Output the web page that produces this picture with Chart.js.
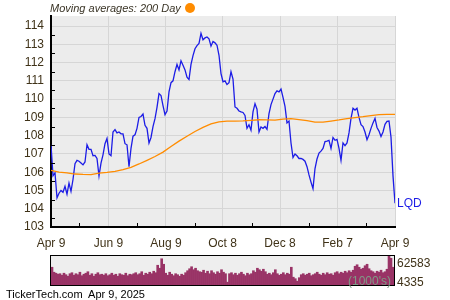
<!DOCTYPE html>
<html>
<head>
<meta charset="utf-8">
<script src="https://cdn.jsdelivr.net/npm/chart.js@4.4.1/dist/chart.umd.min.js"></script>
<style>
    html, body { margin: 0; padding: 0; background: #fff; }
    #wrap { position: relative; width: 450px; height: 300px; overflow: hidden; font-family: "Liberation Sans", Arial, sans-serif; }
    #main { position: absolute; left: 0; top: 0; }
    #vol { position: absolute; left: 0; top: 250px; }
    .txt { position: absolute; white-space: nowrap; line-height: 14px; }
    #title { left: 50px; top: 1px; font-size: 11px; font-style: italic; color: #3a3426; }
    #dot { position: absolute; left: 185px; top: 3px; width: 10px; height: 10px; border-radius: 50%; background: #ff8c00; }
    #volMax { left: 397px; top: 256px; font-size: 12px; color: #3f3218; }
    #volMin { left: 397px; top: 275px; font-size: 12px; color: #3f3218; }
    #volUnit { left: 348px; top: 274px; font-size: 12px; color: #7f9a86; }
    #footer { left: 6px; top: 287px; font-size: 11px; color: #000; }
</style>
</head>
<body>
<div id="wrap">
    <canvas id="main" width="450" height="250"></canvas>
    <canvas id="vol" width="450" height="40"></canvas>
    <div class="txt" id="title">Moving averages: 200 Day</div>
    <div id="dot"></div>
    <div class="txt" id="volMax">62583</div>
    <div class="txt" id="volMin">4335</div>
    <div class="txt" id="volUnit">(1000's)</div>
    <div class="txt" id="footer">TickerTech.com&nbsp; Apr 9, 2025</div>
</div>
<script>
// LQD closes, sampled evenly from Apr 9 2024 to Apr 9 2025
const prices = [
    107.5, 105.8, 105.96, 104.6, 104.85, 105.0, 104.9, 105.23, 104.8, 105.4,
    104.95, 105.6, 106.47, 106.65, 106.6, 106.5, 106.4, 106.56, 107.5, 107.25,
    107.25, 106.9, 106.92, 106.75, 105.8, 106.5, 106.95, 107.56, 107.85, 107.0,
    106.9, 108.2, 108.33, 108.15, 108.2, 108.1, 108.1, 107.56, 107.5, 106.3,
    107.3, 107.97, 108.05, 108.4, 109.0, 109.05, 109.18, 108.57, 108.4, 107.6,
    107.9, 108.5, 108.93, 109.55, 110.3, 110.2, 109.65, 109.15, 109.35, 110.4,
    110.9, 111.0, 111.5, 111.9, 111.6, 112.1, 111.85, 111.6, 111.2, 111.07,
    111.9, 112.38, 112.76, 112.93, 113.05, 113.6, 113.25, 113.35, 113.4, 113.3,
    112.9, 113.15, 113.08, 112.95, 112.4, 111.4, 110.95, 111.0, 110.8, 110.9,
    111.5, 111.1, 109.57, 109.5, 109.35, 109.3, 109.27, 109.11, 108.4, 108.6,
    108.3, 109.3, 109.75, 109.45, 108.2, 108.47, 108.4, 108.5, 108.35, 109.2,
    109.7, 110.0, 110.3, 110.45, 110.4, 110.55, 110.1, 109.6, 108.7, 108.8,
    107.6, 106.8, 107.0, 106.9, 106.75, 106.75, 106.7, 106.6, 106.3, 105.85,
    105.46, 105.1, 106.2, 106.72, 107.05, 107.15, 107.3, 107.68, 107.7, 107.74,
    107.3, 107.9, 107.75, 107.8, 107.3, 106.65, 107.6, 107.45, 107.6, 108.15,
    108.95, 109.5, 109.4, 109.5, 109.0, 108.6, 108.5, 108.2, 107.78, 108.05,
    108.4, 108.7, 108.95, 108.45, 108.25, 107.95, 108.2, 108.62, 108.78, 108.8,
    107.92, 105.8, 104.3
];

// 200 day moving average, one value every 4 price samples
const ma200 = [
    106.1, 106.0, 105.96, 105.9, 105.88, 105.87, 105.95, 105.99, 106.05, 106.14,
    106.27, 106.45, 106.65, 106.86, 107.1, 107.41, 107.7, 107.97, 108.23, 108.45,
    108.64, 108.76, 108.8, 108.8, 108.81, 108.84, 108.87, 108.86, 108.85, 108.9,
    108.93, 108.88, 108.82, 108.74, 108.74, 108.8, 108.86, 108.93, 108.99, 109.04,
    109.1, 109.15, 109.17, 109.17
];

// volume in 1000's
const volumes = [
    40000, 30000, 28000,
    26000, 27000, 24000, 28000, 25000, 22000, 27000,
    29000, 24000, 27000, 25000, 30000, 23000, 26000, 28000,
    31000, 24000, 27000, 22000, 26000, 29000, 25000,
    26000, 24000, 27000, 23000, 25000, 28000, 24000, 26000, 22000, 27000, 25000, 24000, 28000, 23000, 26000, 25000, 27000,
    29000, 25000, 27000, 31000, 24000, 28000, 26000, 30000, 27000, 32000, 29000,
    44000, 38000, 57000, 46000,
    28000, 24000, 30000, 26000, 23000, 27000, 25000, 22000, 26000, 24000, 29000,
    33000, 37000, 41000, 35000, 38000, 33000, 31000,
    30000, 34000, 28000, 32000, 27000, 33000, 29000, 26000, 31000, 28000, 35000, 30000, 27000,
    10000,
    27000, 29000, 25000, 28000, 24000, 27000, 30000, 26000, 23000, 28000, 25000, 27000,
    33000, 30000, 38000, 35000, 32000, 36000, 31000,
    26000, 28000, 25000, 29000, 35000, 27000, 24000, 26000, 29000, 25000, 28000, 26000,
    40000,
    20000, 17000, 12000, 19000,
    25000, 27000, 24000, 26000, 28000, 23000, 25000, 27000, 30000, 26000, 24000, 28000, 25000, 29000, 26000, 27000, 24000,
    29000, 31000, 27000, 30000, 28000, 32000, 29000, 33000, 30000, 34000,
    42000, 45000, 40000, 36000,
    38000, 43000, 46000, 37000, 33000,
    31000, 28000, 32000, 30000, 34000, 29000, 31000, 36000,
    62583, 58000, 40000
];
const volumeMin = 4335;
const volumeMax = 62583;

// axis ticks, x in calendar days from Apr 9 2024
const xTickDays = [0, 61, 122, 182, 243, 304, 365];
const xTickLabels = ['Apr 9', 'Jun 9', 'Aug 9', 'Oct 8', 'Dec 8', 'Feb 7', 'Apr 9'];
const xMinorDays = [30, 91, 153, 213, 274, 334];
const yTicks = [103, 104, 105, 106, 107, 108, 109, 110, 111, 112, 113, 114];
const yMinor = [103.5, 104.5, 105.5, 106.5, 107.5, 108.5, 109.5, 110.5, 111.5, 112.5, 113.5];

const totalDays = 365;
const labelColor = '#3f3218';

Chart.defaults.font.family = '"Liberation Sans", Arial, sans-serif';
Chart.defaults.font.size = 12;

const plotBg = {
    id: 'plotBg',
    beforeDraw(chart, args, opts) {
        const a = chart.chartArea, ctx = chart.ctx;
        ctx.save();
        ctx.fillStyle = opts.color;
        ctx.fillRect(a.left, a.top, a.right - a.left, a.bottom - a.top);
        ctx.restore();
    }
};

// small inner ticks between the labelled ones
const minorTicks = {
    id: 'minorTicks',
    afterDraw(chart) {
        const a = chart.chartArea, ctx = chart.ctx;
        const xs = chart.scales.x, ys = chart.scales.y;
        ctx.save();
        ctx.strokeStyle = '#000';
        ctx.lineWidth = 1;
        ctx.beginPath();
        yMinor.forEach(v => {
            const y = Math.round(ys.getPixelForValue(v)) + 0.5;
            ctx.moveTo(a.left, y);
            ctx.lineTo(a.left + 4, y);
        });
        xMinorDays.forEach(d => {
            const x = Math.round(xs.getPixelForValue(d)) + 0.5;
            ctx.moveTo(x, a.bottom);
            ctx.lineTo(x, a.bottom - 4);
        });
        ctx.stroke();
        ctx.restore();
    }
};

const endLabel = {
    id: 'endLabel',
    afterDatasetsDraw(chart) {
        const meta = chart.getDatasetMeta(1);
        const last = meta.data[meta.data.length - 1];
        const ctx = chart.ctx;
        ctx.save();
        ctx.fillStyle = '#1c1ce6';
        ctx.font = '12px "Liberation Sans", Arial, sans-serif';
        ctx.textBaseline = 'middle';
        ctx.fillText('LQD', last.x + 2, last.y);
        ctx.restore();
    }
};

new Chart(document.getElementById('main'), {
    type: 'line',
    data: {
        datasets: [{
            label: '200 Day',
            data: ma200.map((v, j) => ({ x: j * 4 * totalDays / (prices.length - 1), y: v })),
            borderColor: '#ff8c00',
            borderWidth: 1.3,
            pointRadius: 0,
        }, {
            label: 'LQD',
            data: prices.map((v, i) => ({ x: i * totalDays / (prices.length - 1), y: v })),
            borderColor: '#1c1ce6',
            borderWidth: 1.3,
            pointRadius: 0,
        }]
    },
    options: {
        responsive: false,
        animation: false,
        events: [],
        layout: { padding: { left: 0, right: 55, top: 16, bottom: 0 } },
        plugins: {
            legend: { display: false },
            tooltip: { enabled: false },
            plotBg: { color: '#ececec' }
        },
        scales: {
            x: {
                type: 'linear',
                min: 0,
                max: totalDays,
                afterBuildTicks: s => { s.ticks = xTickDays.map(v => ({ value: v })); },
                afterFit: s => { s.height = 23; },
                ticks: {
                    callback: (v, i) => xTickLabels[i],
                    color: labelColor,
                    padding: 9,
                    maxRotation: 0,
                    autoSkip: false
                },
                grid: { color: '#d6d6d6', drawTicks: false },
                border: { color: '#000', width: 2 }
            },
            y: {
                min: 103,
                max: 114.55,
                afterBuildTicks: s => { s.ticks = yTicks.map(v => ({ value: v })); },
                afterFit: s => { s.width = 51; },
                ticks: { color: labelColor, padding: 7 },
                grid: { color: '#d6d6d6', drawTicks: false },
                border: { color: '#000', width: 2 }
            }
        }
    },
    plugins: [plotBg, minorTicks, endLabel]
});

const volBox = {
    id: 'volBox',
    afterDraw(chart) {
        const a = chart.chartArea, ctx = chart.ctx;
        ctx.save();
        ctx.strokeStyle = '#000';
        ctx.lineWidth = 1;
        ctx.strokeRect(Math.round(a.left) - 0.5, Math.round(a.top) - 0.5, Math.round(a.right - a.left) + 1, Math.round(a.bottom - a.top) + 1);
        ctx.restore();
    }
};

new Chart(document.getElementById('vol'), {
    type: 'bar',
    data: {
        labels: volumes.map((v, i) => i),
        datasets: [{
            data: volumes,
            backgroundColor: '#993366',
            borderWidth: 0,
            barPercentage: 1,
            categoryPercentage: 1
        }]
    },
    options: {
        responsive: false,
        animation: false,
        events: [],
        layout: { padding: { left: 51, right: 56, top: 6, bottom: 5 } },
        plugins: {
            legend: { display: false },
            tooltip: { enabled: false },
            plotBg: { color: '#eeeeee' }
        },
        scales: {
            x: { display: false },
            y: { display: false, min: volumeMin, max: volumeMax }
        }
    },
    plugins: [plotBg, volBox]
});
</script>
</body>
</html>
